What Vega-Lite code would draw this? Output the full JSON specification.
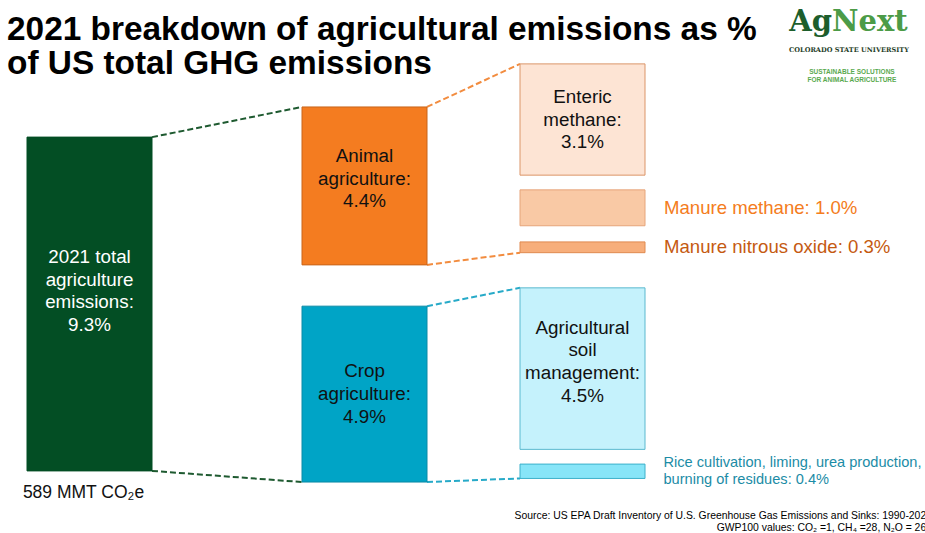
{
  "$schema": "https://vega.github.io/schema/vega-lite/v6.json",
  "width": 925,
  "height": 533,
  "autosize": "none",
  "padding": 0,
  "background": "#ffffff",
  "config": {"view": {"stroke": null}, "font": "Liberation Sans"},
  "title": {
    "text": ["2021 breakdown of agricultural emissions as %", "of US total GHG emissions"],
    "anchor": "start",
    "frame": "group",
    "baseline": "alphabetic",
    "fontSize": 33.4,
    "fontWeight": "bold",
    "font": "Liberation Sans",
    "color": "#000000",
    "lineHeight": 34,
    "offset": -107,
    "dx": 7
  },
  "datasets": {
    "bars": [
      {"name": "total", "col": 0, "start": 3.82, "value": 9.3, "label": "2021 total\nagriculture\nemissions:\n9.3%", "note": "589 MMT CO₂e"},
      {"name": "animal", "col": 1, "start": 2.98, "value": 4.4, "label": "Animal\nagriculture:\n4.4%"},
      {"name": "crop", "col": 1, "start": 8.53, "value": 4.9, "label": "Crop\nagriculture:\n4.9%"},
      {"name": "enteric", "col": 2, "start": 1.78, "value": 3.1, "label": "Enteric\nmethane:\n3.1%"},
      {"name": "manure_methane", "col": 2, "start": 5.29, "value": 1.0, "side": "Manure methane: 1.0%"},
      {"name": "manure_n2o", "col": 2, "start": 6.74, "value": 0.3, "side": "Manure nitrous oxide: 0.3%"},
      {"name": "soil", "col": 2, "start": 8.02, "value": 4.5, "label": "Agricultural\nsoil\nmanagement:\n4.5%"},
      {"name": "rice", "col": 2, "start": 12.93, "value": 0.4, "side": "Rice cultivation, liming, urea production,\nburning of residues: 0.4%"}
    ],
    "links": [
      {"family": "total", "from_col": 0, "to_col": 1, "from_pos": 3.82, "to_pos": 2.98},
      {"family": "total", "from_col": 0, "to_col": 1, "from_pos": 13.12, "to_pos": 13.43},
      {"family": "animal", "from_col": 1, "to_col": 2, "from_pos": 2.98, "to_pos": 1.78},
      {"family": "animal", "from_col": 1, "to_col": 2, "from_pos": 7.38, "to_pos": 7.04},
      {"family": "crop", "from_col": 1, "to_col": 2, "from_pos": 8.53, "to_pos": 8.02},
      {"family": "crop", "from_col": 1, "to_col": 2, "from_pos": 13.43, "to_pos": 13.33}
    ]
  },
  "resolve": {"scale": {"color": "independent", "fill": "independent", "stroke": "independent"}},
  "layer": [
    {
      "data": {"name": "links"},
      "mark": {"type": "rule", "strokeWidth": 2, "strokeDash": [6, 3], "xOffset": 62.5, "x2Offset": -62.5},
      "encoding": {
        "x": {"field": "from_col", "type": "quantitative", "scale": {"domain": [0, 1, 2], "range": [89.5, 364.5, 582.5], "nice": false, "zero": false, "padding": 0}, "axis": null},
        "x2": {"field": "to_col"},
        "y": {"field": "from_pos", "type": "quantitative", "scale": {"domain": [0, 14.85], "reverse": true, "nice": false, "zero": false, "padding": 0}, "axis": null},
        "y2": {"field": "to_pos"},
        "color": {"field": "family", "type": "nominal", "scale": {"domain": ["total", "animal", "crop"], "range": ["#1e5a30", "#f28c3f", "#27aac8"]}, "legend": null}
      }
    },
    {
      "data": {"name": "bars"},
      "transform": [{"calculate": "datum.start + datum.value", "as": "end"}],
      "mark": {"type": "bar", "width": 125, "strokeWidth": 1},
      "encoding": {
        "x": {"field": "col", "type": "quantitative"},
        "y": {"field": "start", "type": "quantitative"},
        "y2": {"field": "end"},
        "fill": {"field": "name", "type": "nominal", "legend": null, "scale": {
          "domain": ["total", "animal", "crop", "enteric", "manure_methane", "manure_n2o", "soil", "rice"],
          "range": ["#034e24", "#f47c20", "#00a4c6", "#fde4d4", "#f9c9a5", "#f7ae7b", "#c5f2fc", "#87e5f8"]}},
        "stroke": {"field": "name", "type": "nominal", "legend": null, "scale": {
          "domain": ["total", "animal", "crop", "enteric", "manure_methane", "manure_n2o", "soil", "rice"],
          "range": ["#034e24", "#c8651b", "#0a8aa6", "#db9568", "#e6a57a", "#e08a50", "#5ab9cf", "#3cb0ca"]}}
      }
    },
    {
      "data": {"name": "bars"},
      "transform": [{"filter": "datum.name === 'crop' || datum.name === 'enteric'"}, {"calculate": "datum.start + datum.value / 2", "as": "mid"}],
      "mark": {"type": "text", "fontSize": 18.8, "lineBreak": "\n", "lineHeight": 22.7, "baseline": "middle", "align": "center", "dy": -22.7, "color": "#111111"},
      "encoding": {
        "x": {"field": "col", "type": "quantitative"},
        "y": {"field": "mid", "type": "quantitative"},
        "text": {"field": "label"}
      }
    },
    {
      "data": {"name": "bars"},
      "transform": [{"filter": "datum.name === 'animal'"}, {"calculate": "datum.start + datum.value / 2", "as": "mid"}],
      "mark": {"type": "text", "fontSize": 18.8, "lineBreak": "\n", "lineHeight": 22.7, "baseline": "middle", "align": "center", "dy": -30, "color": "#111111"},
      "encoding": {
        "x": {"field": "col", "type": "quantitative"},
        "y": {"field": "mid", "type": "quantitative"},
        "text": {"field": "label"}
      }
    },
    {
      "data": {"name": "bars"},
      "transform": [{"filter": "datum.name === 'soil'"}, {"calculate": "datum.start + datum.value / 2", "as": "mid"}],
      "mark": {"type": "text", "fontSize": 18.8, "lineBreak": "\n", "lineHeight": 22.7, "baseline": "middle", "align": "center", "dy": -41, "color": "#111111"},
      "encoding": {
        "x": {"field": "col", "type": "quantitative"},
        "y": {"field": "mid", "type": "quantitative"},
        "text": {"field": "label"}
      }
    },
    {
      "data": {"name": "bars"},
      "transform": [{"filter": "datum.name === 'total'"}, {"calculate": "datum.start + datum.value / 2", "as": "mid"}],
      "mark": {"type": "text", "fontSize": 18.8, "lineBreak": "\n", "lineHeight": 22.7, "baseline": "middle", "align": "center", "dy": -47, "color": "#ffffff"},
      "encoding": {
        "x": {"field": "col", "type": "quantitative"},
        "y": {"field": "mid", "type": "quantitative"},
        "text": {"field": "label"}
      }
    },
    {
      "data": {"name": "bars"},
      "transform": [{"filter": "datum.side != null && datum.name !== 'rice'"}, {"calculate": "datum.start + datum.value / 2", "as": "mid"}],
      "mark": {"type": "text", "fontSize": 18.6, "baseline": "middle", "align": "left", "dx": 81.5},
      "encoding": {
        "x": {"field": "col", "type": "quantitative"},
        "y": {"field": "mid", "type": "quantitative"},
        "text": {"field": "side"},
        "color": {"condition": {"test": "datum.name === 'manure_methane'", "value": "#f47c20"}, "value": "#c55a11"}
      }
    },
    {
      "data": {"name": "bars"},
      "transform": [{"filter": "datum.name === 'rice'"}, {"calculate": "datum.start + datum.value / 2", "as": "mid"}],
      "mark": {"type": "text", "fontSize": 14.6, "lineBreak": "\n", "lineHeight": 17.5, "baseline": "middle", "align": "left", "dx": 81, "dy": -8.7, "color": "#1b8ca6"},
      "encoding": {
        "x": {"field": "col", "type": "quantitative"},
        "y": {"field": "mid", "type": "quantitative"},
        "text": {"field": "side"}
      }
    },
    {
      "data": {"name": "bars"},
      "transform": [{"filter": "datum.note != null"}, {"calculate": "datum.start + datum.value", "as": "end"}],
      "mark": {"type": "text", "fontSize": 17.5, "baseline": "top", "align": "center", "dy": 13, "dx": -6, "color": "#111111"},
      "encoding": {
        "x": {"field": "col", "type": "quantitative"},
        "y": {"field": "end", "type": "quantitative"},
        "text": {"field": "note"}
      }
    },
    {
      "data": {"values": [{}]},
      "mark": {"type": "text", "text": "Ag", "font": "DejaVu Serif", "fontWeight": "bold", "fontSize": 29, "align": "right", "baseline": "alphabetic", "color": "#1d5e2c"},
      "encoding": {"x": {"datum": 3.1445, "type": "quantitative"}, "y": {"datum": 0.864, "type": "quantitative"}}
    },
    {
      "data": {"values": [{}]},
      "mark": {"type": "text", "text": "Next", "font": "DejaVu Serif", "fontWeight": "bold", "fontSize": 29, "align": "left", "baseline": "alphabetic", "color": "#4c9b47"},
      "encoding": {"x": {"datum": 3.1445, "type": "quantitative"}, "y": {"datum": 0.864, "type": "quantitative"}}
    },
    {
      "data": {"values": [{}]},
      "mark": {"type": "text", "text": "COLORADO STATE UNIVERSITY", "font": "DejaVu Serif", "fontWeight": "bold", "fontSize": 6.6, "align": "center", "baseline": "middle", "color": "#1f3d28"},
      "encoding": {"x": {"datum": 3.2225, "type": "quantitative"}, "y": {"datum": 1.393, "type": "quantitative"}}
    },
    {
      "data": {"values": [{}]},
      "mark": {"type": "text", "text": ["SUSTAINABLE SOLUTIONS", "FOR ANIMAL AGRICULTURE"], "font": "Liberation Sans", "fontWeight": "bold", "fontSize": 6.5, "lineHeight": 8.5, "align": "center", "baseline": "middle", "dy": -4.2, "color": "#5aaa50"},
      "encoding": {"x": {"datum": 3.236, "type": "quantitative"}, "y": {"datum": 2.11, "type": "quantitative"}}
    },
    {
      "data": {"values": [{}]},
      "mark": {"type": "text", "text": ["Source: US EPA Draft Inventory of U.S. Greenhouse Gas Emissions and Sinks: 1990-2022", "GWP100 values: CO₂ =1, CH₄ =28, N₂O = 265"], "fontSize": 10.4, "lineHeight": 12, "align": "right", "baseline": "alphabetic", "color": "#000000"},
      "encoding": {"x": {"datum": 3.603, "type": "quantitative"}, "y": {"datum": 14.46, "type": "quantitative"}}
    }
  ]
}
